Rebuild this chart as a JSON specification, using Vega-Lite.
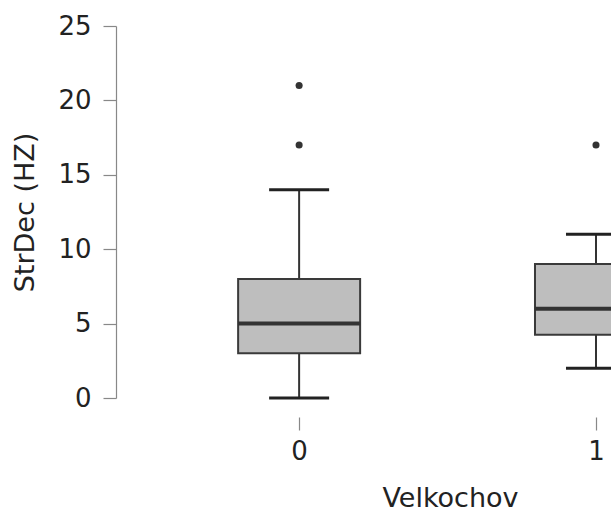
{
  "$schema": "https://vega.github.io/schema/vega-lite/v6.json",
  "width": 495,
  "height": 372,
  "autosize": {"type": "none"},
  "padding": {"left": 116, "top": 26, "right": 0, "bottom": 115},
  "config": {
    "view": {"stroke": null},
    "font": "DejaVu Sans",
    "axis": {"grid": false, "labelFont": "DejaVu Sans", "titleFont": "DejaVu Sans", "labelFontSize": 26, "titleFontSize": 27, "titleFontWeight": "normal", "labelColor": "#222", "titleColor": "#222", "tickColor": "#888", "domainColor": "#888", "tickSize": 13, "tickWidth": 1.2, "domainWidth": 1.2}
  },
  "datasets": {
    "stats": [
      {"Velkochov": 0, "lower": 0, "q1": 3, "median": 5, "q3": 8, "upper": 14},
      {"Velkochov": 1, "lower": 2, "q1": 4.25, "median": 6, "q3": 9, "upper": 11}
    ],
    "outliers": [
      {"Velkochov": 0, "StrDec": 21},
      {"Velkochov": 0, "StrDec": 17},
      {"Velkochov": 1, "StrDec": 17}
    ]
  },
  "encoding": {
    "x": {
      "field": "Velkochov", "type": "quantitative",
      "scale": {"domain": [-0.6, 1.0337], "zero": false, "nice": false},
      "axis": {"values": [0, 1], "format": "d", "domain": false, "offset": 19, "labelPadding": 8, "titlePadding": 21, "title": "Velkochov", "titleX": 334}
    }
  },
  "layer": [
    {
      "data": {"name": "stats"},
      "mark": {"type": "rule", "color": "#333", "strokeWidth": 2},
      "encoding": {
        "y": {"field": "lower", "type": "quantitative", "scale": {"domain": [0, 25], "nice": false}, "axis": {"values": [0, 5, 10, 15, 20, 25], "labelPadding": 12, "titlePadding": 18, "title": "StrDec (HZ)"}},
        "y2": {"field": "upper"}
      }
    },
    {
      "data": {"name": "stats"},
      "mark": {"type": "tick", "orient": "horizontal", "size": 60, "thickness": 3, "color": "#222", "opacity": 1},
      "encoding": {"y": {"field": "lower", "type": "quantitative"}}
    },
    {
      "data": {"name": "stats"},
      "mark": {"type": "tick", "orient": "horizontal", "size": 60, "thickness": 3, "color": "#222", "opacity": 1},
      "encoding": {"y": {"field": "upper", "type": "quantitative"}}
    },
    {
      "data": {"name": "stats"},
      "mark": {"type": "bar", "width": 122, "fill": "#bebebe", "stroke": "#3a3a3a", "strokeWidth": 2},
      "encoding": {"y": {"field": "q1", "type": "quantitative"}, "y2": {"field": "q3"}}
    },
    {
      "data": {"name": "stats"},
      "mark": {"type": "tick", "orient": "horizontal", "size": 122, "thickness": 4, "color": "#333", "opacity": 1},
      "encoding": {"y": {"field": "median", "type": "quantitative"}}
    },
    {
      "data": {"name": "outliers"},
      "mark": {"type": "point", "filled": true, "size": 50, "color": "#333", "opacity": 1},
      "encoding": {"y": {"field": "StrDec", "type": "quantitative"}}
    }
  ]
}
